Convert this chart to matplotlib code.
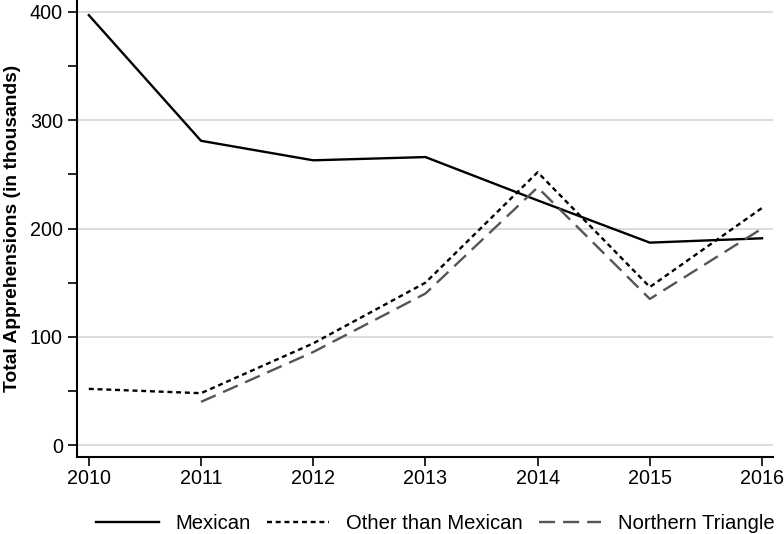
import numpy as np
import matplotlib.pyplot as plt
from matplotlib.ticker import MultipleLocator

plt.rcParams['font.family'] = ['Liberation Sans', 'DejaVu Sans']

years = [2010, 2011, 2012, 2013, 2014, 2015, 2016]
mexican = [397, 281, 263, 266, 226, 187, 191]
other = [52, 48, 94, 150, 252, 146, 219]
northern = [np.nan, 40, 86, 140, 238, 135, 200]

fig = plt.figure(figsize=(7.84, 5.34), dpi=100)
ax = fig.add_axes([0.098, 0.144, 0.888, 0.856])

ax.plot(years, mexican, color='black', lw=1.7, label='Mexican')
ax.plot(years, other, color='black', lw=1.7, dashes=(2.1, 1.6), label='Other than Mexican')
ax.plot(years, northern, color='#555555', lw=1.7, dashes=(6.8, 3.4), label='Northern Triangle')

ax.set_xlim(2009.893, 2016.098)
ax.set_ylim(-11, 411)
ax.set_xticks(years)
ax.yaxis.set_major_locator(MultipleLocator(100))
ax.yaxis.set_minor_locator(MultipleLocator(50))
ax.grid(axis='y', which='major', color='#d9d9d9', lw=1.3)
ax.set_axisbelow(True)
for s in ['top', 'right']:
    ax.spines[s].set_visible(False)
for s in ['left', 'bottom']:
    ax.spines[s].set_linewidth(1.5)
ax.tick_params(axis='both', which='both', length=6.5, width=1.2, labelsize=14.2, colors='black')
ax.tick_params(axis='x', pad=2)
ax.set_ylabel('Total Apprehensions (in thousands)', fontsize=13.9, fontweight='bold', labelpad=6)

fig.legend(loc='lower center', bbox_to_anchor=(0.555, -0.033), ncol=3, frameon=False,
           fontsize=14.6, handlelength=3.1, columnspacing=0.8, handletextpad=0.8)

plt.savefig('out.png', dpi=100)
